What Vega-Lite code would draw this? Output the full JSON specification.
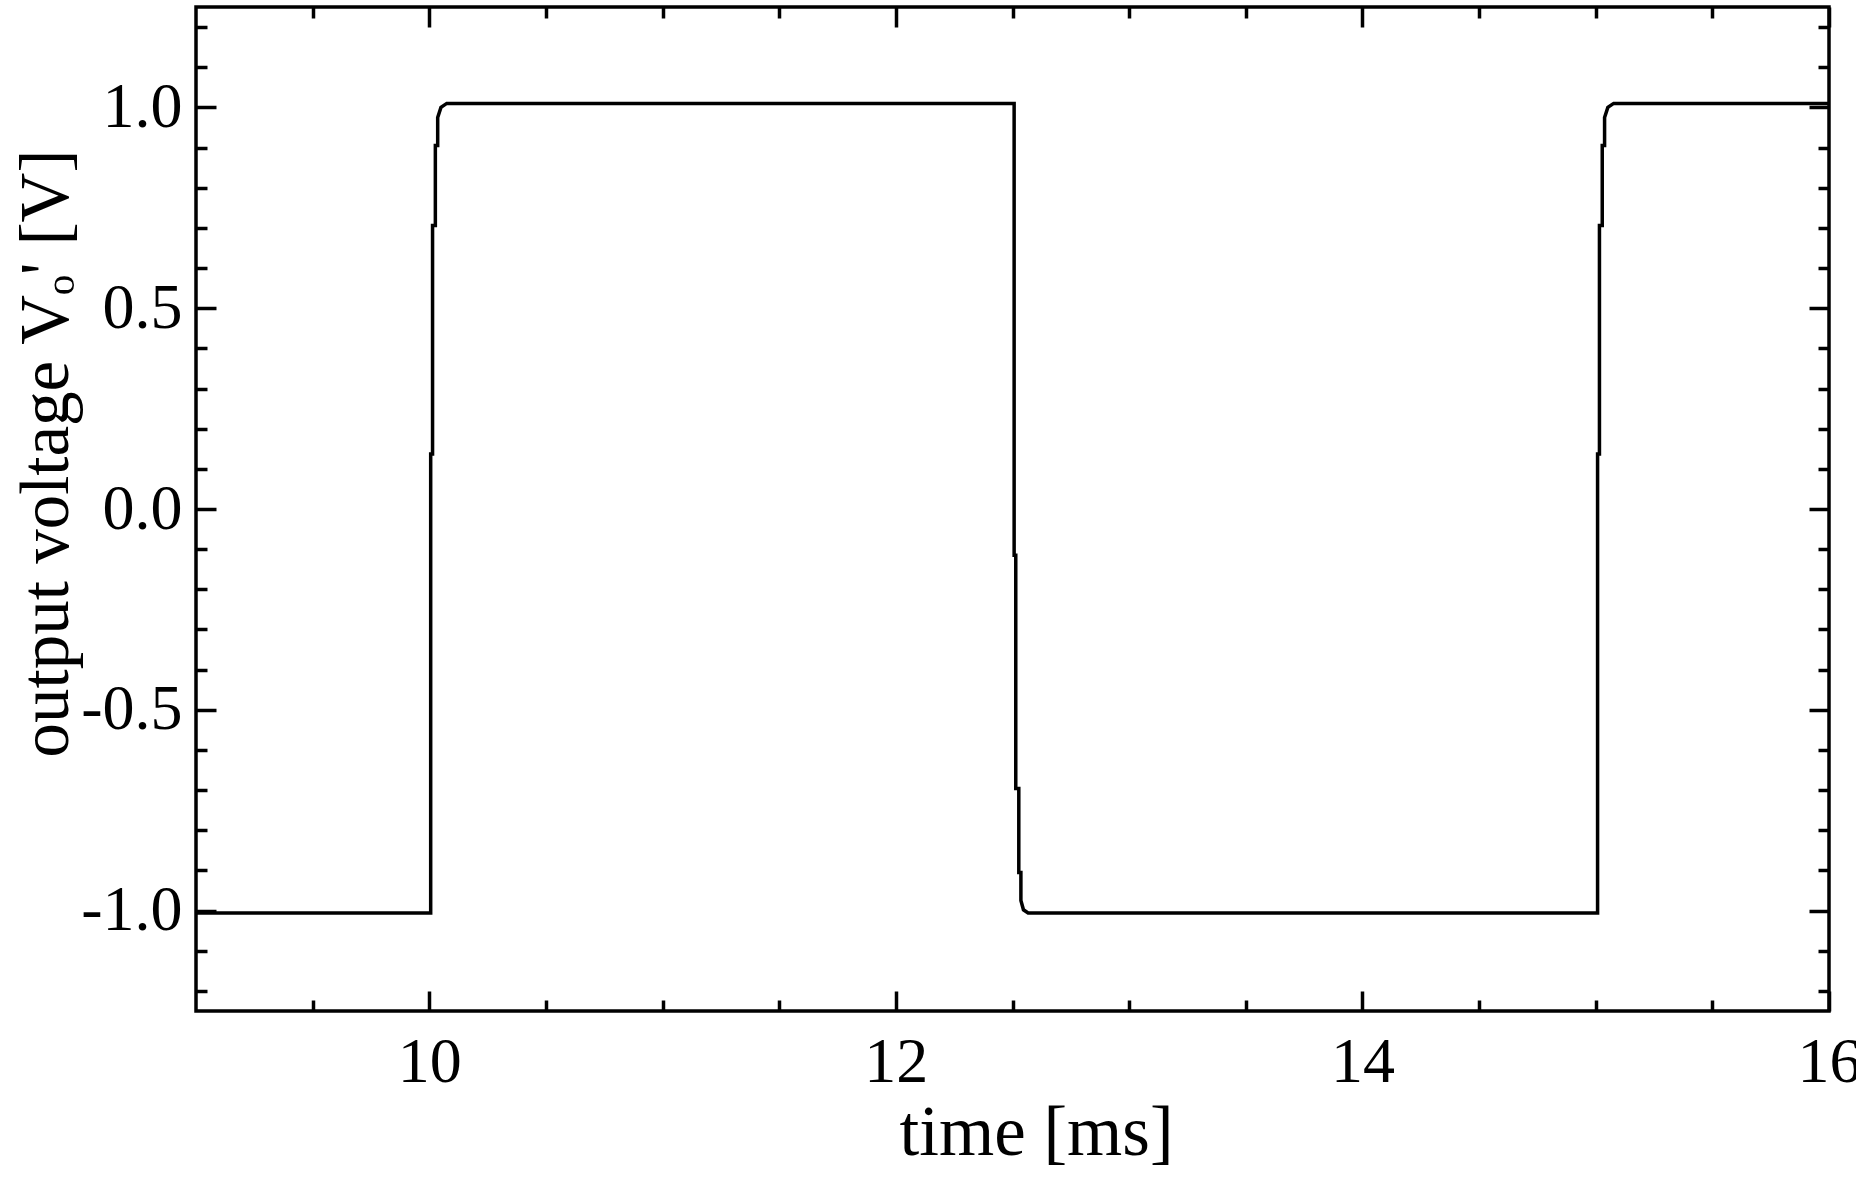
{
  "$schema": "https://vega.github.io/schema/vega-lite/v6.json",
  "width": 1633,
  "height": 1004,
  "autosize": {"type": "none"},
  "padding": {"left": 196, "top": 7, "right": 27, "bottom": 171},
  "background": "white",
  "config": {
    "view": {"stroke": "black", "strokeWidth": 3.5},
    "axis": {
      "grid": false,
      "domain": false,
      "tickColor": "black",
      "tickWidth": 3.5,
      "labelFont": "Liberation Serif",
      "titleFont": "Liberation Serif",
      "labelColor": "black",
      "titleColor": "black",
      "labelFontSize": 64,
      "titleFontSize": 71,
      "titleFontWeight": "normal",
      "labelFlush": false,
      "labelOverlap": false
    }
  },
  "data": {
    "values": [
      {"i": 0, "t": 9.0, "v": -1.006},
      {"i": 1, "t": 10.006, "v": -1.006},
      {"i": 2, "t": 10.006, "v": 0.137},
      {"i": 3, "t": 10.014, "v": 0.137},
      {"i": 4, "t": 10.014, "v": 0.706},
      {"i": 5, "t": 10.026, "v": 0.706},
      {"i": 6, "t": 10.026, "v": 0.905},
      {"i": 7, "t": 10.036, "v": 0.905},
      {"i": 8, "t": 10.036, "v": 0.975},
      {"i": 9, "t": 10.05, "v": 1.0},
      {"i": 10, "t": 10.075, "v": 1.01},
      {"i": 11, "t": 12.507, "v": 1.01},
      {"i": 12, "t": 12.507, "v": -0.115},
      {"i": 13, "t": 12.514, "v": -0.115},
      {"i": 14, "t": 12.514, "v": -0.696},
      {"i": 15, "t": 12.527, "v": -0.696},
      {"i": 16, "t": 12.527, "v": -0.905},
      {"i": 17, "t": 12.536, "v": -0.905},
      {"i": 18, "t": 12.536, "v": -0.975},
      {"i": 19, "t": 12.547, "v": -0.998},
      {"i": 20, "t": 12.567, "v": -1.006},
      {"i": 21, "t": 15.008, "v": -1.006},
      {"i": 22, "t": 15.008, "v": 0.137},
      {"i": 23, "t": 15.016, "v": 0.137},
      {"i": 24, "t": 15.016, "v": 0.706},
      {"i": 25, "t": 15.028, "v": 0.706},
      {"i": 26, "t": 15.028, "v": 0.905},
      {"i": 27, "t": 15.038, "v": 0.905},
      {"i": 28, "t": 15.038, "v": 0.975},
      {"i": 29, "t": 15.052, "v": 1.0},
      {"i": 30, "t": 15.077, "v": 1.01},
      {"i": 31, "t": 16.0, "v": 1.01}
    ]
  },
  "layer": [
    {
      "mark": {"type": "line", "color": "black", "strokeWidth": 3.5},
      "encoding": {
        "order": {"field": "i", "type": "quantitative"},
        "x": {
          "field": "t", "type": "quantitative",
          "scale": {"domain": [9, 16], "nice": false, "zero": false},
          "axis": {
            "orient": "bottom", "values": [10, 12, 14, 16], "ticks": false,
            "labelPadding": 19, "title": "time [ms]",
            "titleX": 840, "titleY": 143, "titleBaseline": "alphabetic", "titleAlign": "center"
          }
        },
        "y": {
          "field": "v", "type": "quantitative",
          "scale": {"domain": [-1.25, 1.25], "nice": false, "zero": false},
          "axis": {
            "orient": "left", "values": [-1, -0.5, 0, 0.5, 1], "ticks": false,
            "labelPadding": 14,
            "labelExpr": "datum.value < 0 ? '-' + format(-datum.value, '.1f') : format(datum.value, '.1f')",
            "title": "output voltage Vₒ' [V]",
            "titleX": -129, "titleY": 446, "titleAngle": 270,
            "titleFontSize": 69,
            "titleBaseline": "alphabetic", "titleAlign": "center"
          }
        }
      }
    },
    {
      "mark": {"type": "line", "opacity": 0},
      "encoding": {
        "order": {"field": "i", "type": "quantitative"},
        "x": {
          "field": "t", "type": "quantitative",
          "scale": {"domain": [9, 16], "nice": false, "zero": false},
          "axis": {"orient": "bottom", "values": [10, 12, 14, 16], "tickSize": -20, "labels": false, "title": null}
        },
        "y": {
          "field": "v", "type": "quantitative",
          "scale": {"domain": [-1.25, 1.25], "nice": false, "zero": false},
          "axis": {"orient": "left", "values": [-1, -0.5, 0, 0.5, 1], "tickSize": -20, "labels": false, "title": null}
        }
      }
    },
    {
      "mark": {"type": "line", "opacity": 0},
      "encoding": {
        "order": {"field": "i", "type": "quantitative"},
        "x": {
          "field": "t", "type": "quantitative",
          "scale": {"domain": [9, 16], "nice": false, "zero": false},
          "axis": {"orient": "bottom", "values": [9.5, 10.5, 11, 11.5, 12.5, 13, 13.5, 14.5, 15, 15.5], "tickSize": -11, "labels": false, "title": null}
        },
        "y": {
          "field": "v", "type": "quantitative",
          "scale": {"domain": [-1.25, 1.25], "nice": false, "zero": false},
          "axis": {"orient": "left", "values": [-1.2, -1.1, -0.9, -0.8, -0.7, -0.6, -0.4, -0.3, -0.2, -0.1, 0.1, 0.2, 0.3, 0.4, 0.6, 0.7, 0.8, 0.9, 1.1, 1.2], "tickSize": -11, "labels": false, "title": null}
        }
      }
    },
    {
      "mark": {"type": "line", "opacity": 0},
      "encoding": {
        "order": {"field": "i", "type": "quantitative"},
        "x": {
          "field": "t", "type": "quantitative",
          "scale": {"domain": [9, 16], "nice": false, "zero": false},
          "axis": {"orient": "top", "values": [10, 12, 14, 16], "tickSize": -20, "labels": false, "title": null}
        },
        "y": {
          "field": "v", "type": "quantitative",
          "scale": {"domain": [-1.25, 1.25], "nice": false, "zero": false},
          "axis": {"orient": "right", "values": [-1, -0.5, 0, 0.5, 1], "tickSize": -20, "labels": false, "title": null}
        }
      }
    },
    {
      "mark": {"type": "line", "opacity": 0},
      "encoding": {
        "order": {"field": "i", "type": "quantitative"},
        "x": {
          "field": "t", "type": "quantitative",
          "scale": {"domain": [9, 16], "nice": false, "zero": false},
          "axis": {"orient": "top", "values": [9.5, 10.5, 11, 11.5, 12.5, 13, 13.5, 14.5, 15, 15.5], "tickSize": -11, "labels": false, "title": null}
        },
        "y": {
          "field": "v", "type": "quantitative",
          "scale": {"domain": [-1.25, 1.25], "nice": false, "zero": false},
          "axis": {"orient": "right", "values": [-1.2, -1.1, -0.9, -0.8, -0.7, -0.6, -0.4, -0.3, -0.2, -0.1, 0.1, 0.2, 0.3, 0.4, 0.6, 0.7, 0.8, 0.9, 1.1, 1.2], "tickSize": -11, "labels": false, "title": null}
        }
      }
    }
  ],
  "resolve": {"axis": {"x": "independent", "y": "independent"}}
}
